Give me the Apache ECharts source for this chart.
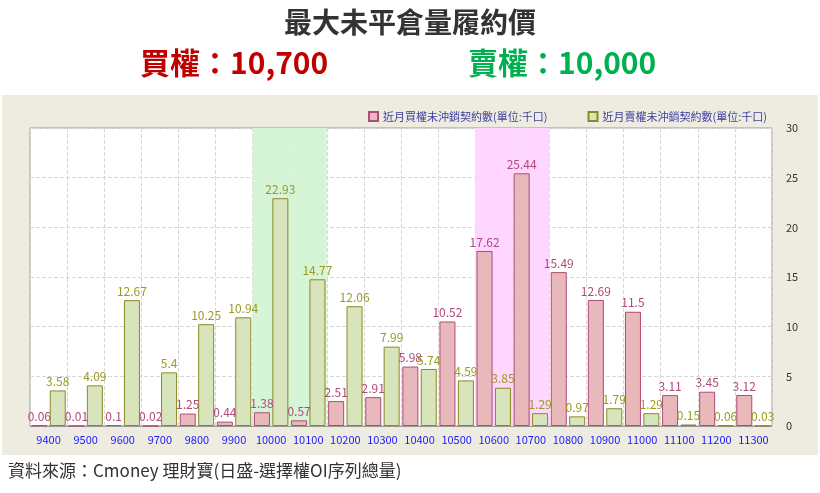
<!DOCTYPE html>
<html><head><meta charset="utf-8">
<script src="https://cdn.jsdelivr.net/npm/echarts@6/dist/echarts.min.js"></script>
<style>html,body{margin:0;padding:0;background:#fff}#c{width:820px;height:493px}</style>
</head><body><div id="c"></div>
<script>
const categories=['9400','9500','9600','9700','9800','9900','10000','10100','10200','10300','10400','10500','10600','10700','10800','10900','11000','11100','11200','11300'];
const callOI=[0.06,0.01,0.1,0.02,1.25,0.44,1.38,0.57,2.51,2.91,5.98,10.52,17.62,25.44,15.49,12.69,11.5,3.11,3.45,3.12];
const putOI=[3.58,4.09,12.67,5.4,10.25,10.94,22.93,14.77,12.06,7.99,5.74,4.59,3.85,1.29,0.97,1.79,1.29,0.15,0.06,0.03];
const greenBand=['10000','10100'];
const pinkBand=['10600','10700'];
const yTicks={min:0,max:30,interval:5};
const FONT='"Noto Sans CJK TC","Noto Sans",sans-serif';
const chart=echarts.init(document.getElementById('c'));
const bandData=(b)=>categories.map(c=>b.includes(c)?yTicks.max:null);
chart.setOption({
 animation:false,
 textStyle:{fontFamily:FONT},
 graphic:[
  {type:'rect',shape:{x:2,y:95,width:816,height:360},style:{fill:'#eeebe0'},z:-10},
  {type:'text',left:'center',top:8,style:{text:'最大未平倉量履約價',fontSize:28,fontWeight:'bold',fill:'#333',fontFamily:FONT}},
  {type:'text',left:140,top:48,style:{text:'買權：10,700',fontSize:30,fontWeight:'bold',fill:'#c00000',fontFamily:FONT}},
  {type:'text',left:468,top:48,style:{text:'賣權：10,000',fontSize:30,fontWeight:'bold',fill:'#00b050',fontFamily:FONT}},
  {type:'text',left:8,top:462,style:{text:'資料來源：Cmoney 理財寶(日盛-選擇權OI序列總量)',fontSize:17,fill:'#333',fontFamily:FONT}}
 ],
 legend:{right:48,top:106,itemWidth:9,itemHeight:9,itemGap:40,icon:'rect',
  textStyle:{color:'#4040a0',fontSize:11},data:['近月買權未沖銷契約數(單位:千口)','近月賣權未沖銷契約數(單位:千口)']},
 grid:{left:30,right:48,top:128,bottom:67,show:true,borderColor:'#999',backgroundColor:'#fff'},
 xAxis:[
  {type:'category',data:categories,axisTick:{show:false},axisLine:{lineStyle:{color:'#999'}},
   axisLabel:{color:'#1a1aff',fontSize:11,interval:0},
   splitLine:{show:true,lineStyle:{type:'dashed',color:'#d8d8d8'}}},
  {type:'category',data:categories,show:false}
 ],
 yAxis:{type:'value',position:'right',...yTicks,axisLabel:{color:'#333',fontSize:11,margin:14},
  splitLine:{lineStyle:{type:'dashed',color:'#d8d8d8'}},axisLine:{show:false}},
 series:[
  {type:'bar',xAxisIndex:1,data:bandData(greenBand),barWidth:'100%',silent:true,itemStyle:{color:'#d6f5d6'},z:0,legendHoverLink:false},
  {type:'bar',xAxisIndex:1,data:bandData(pinkBand),barWidth:'100%',barGap:'-100%',silent:true,itemStyle:{color:'#ffd6ff'},z:0},
  {name:'近月買權未沖銷契約數(單位:千口)',type:'bar',data:callOI,barWidth:16,barGap:'15%',z:2,
   itemStyle:{color:'#e8b8bb',borderColor:'#b04a7a',borderWidth:1},
   label:{show:true,position:'top',color:'#b04a7a',fontSize:12,distance:3}},
  {name:'近月賣權未沖銷契約數(單位:千口)',type:'bar',data:putOI,barWidth:16,z:2,
   itemStyle:{color:'#d8e4bc',borderColor:'#8a8a20',borderWidth:1},
   label:{show:true,position:'top',color:'#9a9a20',fontSize:12,distance:3}}
 ]
});
</script></body></html>
